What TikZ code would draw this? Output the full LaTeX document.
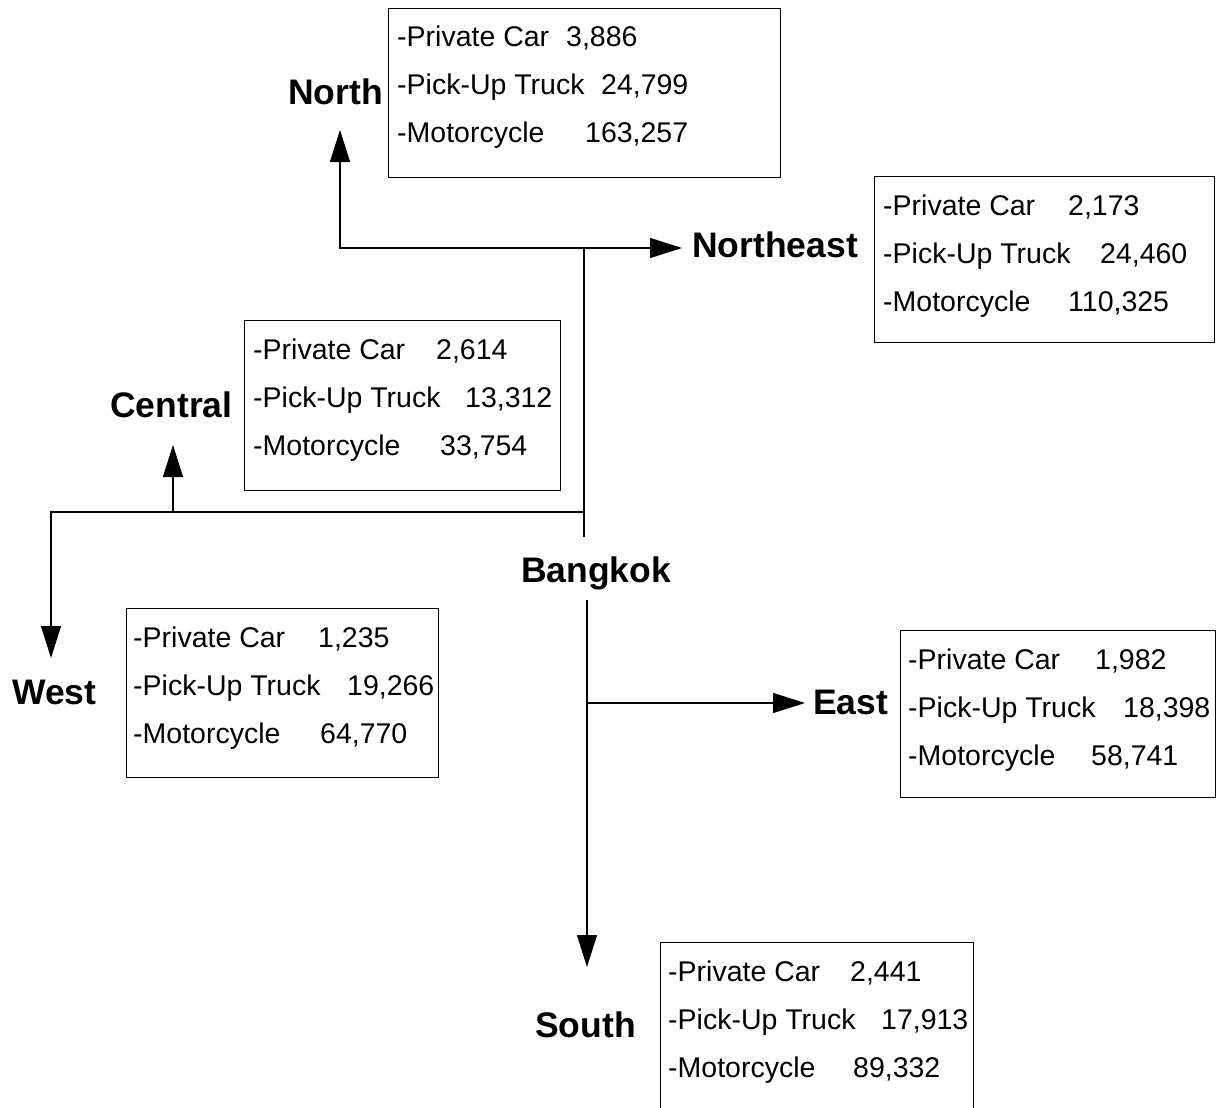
\documentclass[tikz,border=0pt]{standalone}
\usepackage{fontspec}
\setmainfont{Liberation Sans}
\usetikzlibrary{arrows.meta}
% one row of a data box: label padded to a fixed width, then the count
\newcommand\itemrow[3]{\hbox{\makebox[#1pt][l]{#2}#3}}
\begin{document}
\begin{tikzpicture}[x=1pt,y=-1pt,
  conn/.style={line width=1.3pt},
  arr/.style={conn,-{Triangle[length=32pt,width=20pt]}},
  region/.style={font=\fontsize{35.5}{40}\selectfont\bfseries, inner sep=0pt, anchor=base west},
  databox/.style={draw, line width=1.3pt, rectangle, anchor=north west, inner sep=0pt},
  datatext/.style={anchor=base west, inner sep=0pt, font=\fontsize{28.5}{48}\selectfont}]

\useasboundingbox (0,0) rectangle (1227,1108);
\fill[white] (0,0) rectangle (1227,1108);
\clip (0,0) rectangle (1227,1108);

% region labels
\node[region] (north)     at (288,104)  {North};
\node[region] (northeast) at (692,257)  {Northeast};
\node[region] (central)   at (110,417)  {Central};
\node[region] (bangkok)   at (521,582)  {Bangkok};
\node[region] (west)      at (12,704)   {West};
\node[region] (east)      at (813,714)  {East};
\node[region] (south)     at (535,1037) {South};

% data boxes
\node[databox, minimum width=392pt, minimum height=169pt] (northbox) at (388,8) {};
\node[datatext] (northdata) at ([xshift=9pt,yshift=-39pt]northbox.north west) {\vtop{%
  \itemrow{169}{-Private Car}{3,886}
  \itemrow{204}{-Pick-Up Truck}{24,799}
  \itemrow{188}{-Motorcycle}{163,257}}};

\node[databox, minimum width=340pt, minimum height=166pt] (nebox) at (874,176) {};
\node[datatext] (nedata) at ([xshift=9pt,yshift=-39pt]nebox.north west) {\vtop{%
  \itemrow{185}{-Private Car}{2,173}
  \itemrow{217}{-Pick-Up Truck}{24,460}
  \itemrow{185}{-Motorcycle}{110,325}}};

\node[databox, minimum width=316pt, minimum height=170pt] (centralbox) at (244,320) {};
\node[datatext] (centraldata) at ([xshift=9pt,yshift=-39pt]centralbox.north west) {\vtop{%
  \itemrow{183}{-Private Car}{2,614}
  \itemrow{212}{-Pick-Up Truck}{13,312}
  \itemrow{187}{-Motorcycle}{33,754}}};

\node[databox, minimum width=312pt, minimum height=169pt] (westbox) at (126,608) {};
\node[datatext] (westdata) at ([xshift=7pt,yshift=-39pt]westbox.north west) {\vtop{%
  \itemrow{185}{-Private Car}{1,235}
  \itemrow{214}{-Pick-Up Truck}{19,266}
  \itemrow{187}{-Motorcycle}{64,770}}};

\node[databox, minimum width=315pt, minimum height=167pt] (eastbox) at (900,630) {};
\node[datatext] (eastdata) at ([xshift=8pt,yshift=-39pt]eastbox.north west) {\vtop{%
  \itemrow{187}{-Private Car}{1,982}
  \itemrow{215}{-Pick-Up Truck}{18,398}
  \itemrow{183}{-Motorcycle}{58,741}}};

\node[databox, minimum width=313pt, minimum height=190pt] (southbox) at (660,942) {};
\node[datatext] (southdata) at ([xshift=8pt,yshift=-39pt]southbox.north west) {\vtop{%
  \itemrow{182}{-Private Car}{2,441}
  \itemrow{213}{-Pick-Up Truck}{17,913}
  \itemrow{185}{-Motorcycle}{89,332}}};

% junctions and arrow tips
\coordinate (topjoin)     at (584,248);
\coordinate (northturn)   at (340,248);
\coordinate (northtip)    at (340,130);
\coordinate (netip)       at (682,248);
\coordinate (midjoin)     at (584,512);
\coordinate (trunkend)    at (584,537);
\coordinate (centralfoot) at (173,512);
\coordinate (centraltip)  at (173,445);
\coordinate (westturn)    at (51,512);
\coordinate (westtip)     at (51,658);
\coordinate (lowstart)    at (587,600);
\coordinate (eastjoin)    at (587,703);
\coordinate (easttip)     at (805,703);
\coordinate (southtip)    at (587,967);

% connectors
\draw[conn] (topjoin) -- (trunkend);
\draw[arr] (topjoin) -- (northturn) -- (northtip);
\draw[arr] (topjoin) -- (netip);
\draw[arr] (midjoin) -- (westturn) -- (westtip);
\draw[arr] (centralfoot) -- (centraltip);
\draw[arr] (lowstart) -- (southtip);
\draw[arr] (eastjoin) -- (easttip);
\end{tikzpicture}
\end{document}
